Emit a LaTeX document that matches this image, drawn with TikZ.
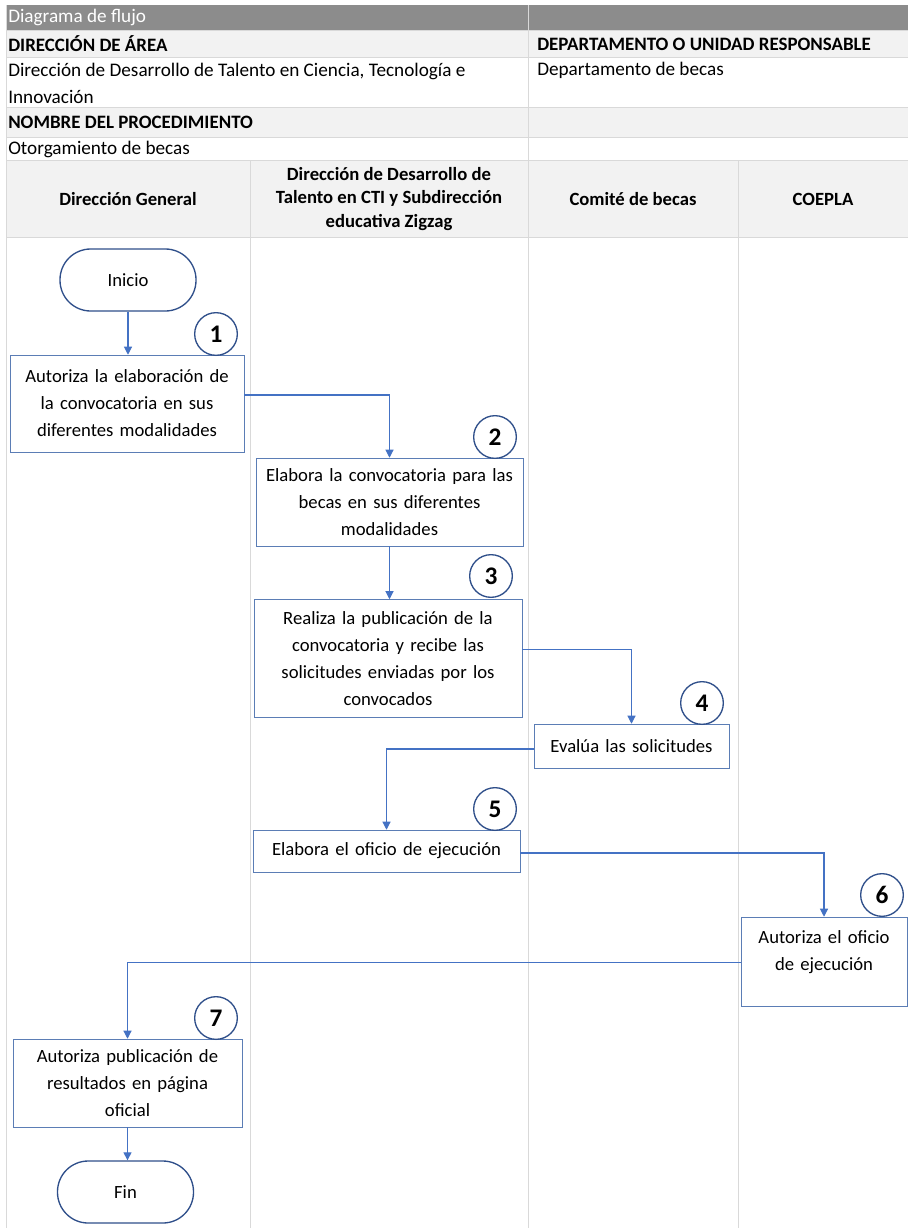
\documentclass[tikz,border=0pt]{standalone}
\usepackage{fontspec}
\setmainfont{Carlito}
\usetikzlibrary{arrows.meta, positioning}
\definecolor{flowblue}{HTML}{4472C4}
\definecolor{boxedge}{HTML}{5B7DB5}
\definecolor{darkedge}{HTML}{2F4F8A}
\definecolor{gridgray}{HTML}{D9D9D9}
\definecolor{headgray}{HTML}{8C8C8C}
\definecolor{rowgray}{HTML}{F2F2F2}

\begin{document}
\begin{tikzpicture}[x=0.75pt, y=-0.75pt,
    stepbox/.style={draw=boxedge, fill=white, align=center, inner sep=2pt,
        font=\fontsize{14}{20.25}\selectfont},
    terminal/.style={draw=darkedge, line width=1pt, rounded corners=23pt, fill=white,
        minimum width=102pt, minimum height=46.5pt, font=\fontsize{14}{20.25}\selectfont},
    num/.style={circle, draw=darkedge, line width=1pt, fill=white, minimum size=32pt,
        inner sep=0pt, font=\fontsize{19}{20}\selectfont\bfseries},
    flow/.style={flowblue, line width=0.8pt, -{Triangle[width=6pt,length=6pt]}},
    cell/.style={anchor=west, inner sep=0pt, align=left, font=\fontsize{14.4}{20.25}\selectfont},
    cellbold/.style={cell, font=\fontsize{14.2}{20.25}\selectfont\bfseries},
    lanehead/.style={align=center, inner sep=0pt, font=\fontsize{14}{17.6}\selectfont\bfseries}]
\useasboundingbox (0,0) rectangle (908,1228);

% table background and grid
\fill[headgray] (6,5) rectangle (908,30);
\fill[rowgray] (6,30) rectangle (908,57);
\fill[rowgray] (6,107) rectangle (908,137);
\fill[rowgray] (6,160) rectangle (908,237);
\foreach \y in {30,57,107,137,160,237}
    \draw[gridgray] (6,\y) -- (908,\y);
\draw[gridgray] (6,5) -- (6,1228);
\draw[gridgray] (528,5) -- (528,1228);
\draw[gridgray] (250,160) -- (250,1228);
\draw[gridgray] (738,160) -- (738,1228);

% header texts
\node[cell, text=white] (title) at (8,17) {Diagrama de flujo};
\node[cellbold] (area) at (8,44) {DIRECCIÓN DE ÁREA};
\node[cellbold] (dept) at (537,44) {DEPARTAMENTO O UNIDAD RESPONSABLE};
\node[cell] (areaname) at (8,83.5) {Dirección de Desarrollo de Talento en Ciencia, Tecnología e\\Innovación};
\node[cell] (deptname) at (537,70) {Departamento de becas};
\node[cellbold] (proc) at (8,122) {NOMBRE DEL PROCEDIMIENTO};
\node[cell] (procname) at (8,149) {Otorgamiento de becas};

% lanes
\node[lanehead] (laneA) at (128,199) {Dirección General};
\node[lanehead] (laneB) at (389,199) {Dirección de Desarrollo de\\Talento en CTI y Subdirección\\educativa Zigzag};
\node[lanehead] (laneC) at (633,199) {Comité de becas};
\node[lanehead] (laneD) at (823,199) {COEPLA};

% flow steps
\node[terminal] (ini) at (128,280) {Inicio};
\node[stepbox, minimum width=175.5pt, minimum height=72.75pt, text width=171pt] (b1) at (127,403.5)
    {Autoriza la elaboración de\\la convocatoria en sus\\diferentes modalidades};
\node[stepbox, minimum width=200.25pt, minimum height=66pt, text width=196pt] (b2) at (389.5,502)
    {Elabora la convocatoria para las\\becas en sus diferentes\\modalidades};
\node[stepbox, minimum width=201pt, minimum height=88.5pt, text width=197pt] (b3) at (388,658.5)
    {Realiza la publicación de la\\convocatoria y recibe las\\solicitudes enviadas por los\\convocados};
\node[stepbox, minimum width=146.25pt, minimum height=33pt, text width=142pt] (b4) at (631.5,746)
    {Evalúa las solicitudes};
\node[stepbox, minimum width=200.25pt, minimum height=31.5pt, text width=196pt] (b5) at (386.5,851)
    {Elabora el oficio de ejecución};
\node[stepbox, minimum width=124.5pt, minimum height=66.75pt, text width=120pt] (b6) at (824,961.5)
    {Autoriza el oficio\\de ejecución\\[-4pt]\mbox{}};
\node[stepbox, minimum width=171.75pt, minimum height=66pt, text width=167pt] (b7) at (127.5,1083)
    {Autoriza publicación de\\resultados en página\\oficial};
\node[terminal] (fin) at (125.5,1192) {Fin};

% step numbers
\node[num] (n1) at (216,334) {1};
\node[num] (n2) at (495,437) {2};
\node[num] (n3) at (491,576) {3};
\node[num] (n4) at (702,703) {4};
\node[num] (n5) at (495,809) {5};
\node[num] (n6) at (882,895) {6};
\node[num] (n7) at (216,1018) {7};

% connectors
\draw[flow] (ini.south) -- (ini.south |- b1.north);
\draw[flow] ([yshift=6.4pt]b1.east) -| (b2.north);
\draw[flow] (b2.south) -- (b2.south |- b3.north);
\draw[flow] ([yshift=7pt]b3.east) -| (b4.north);
\draw[flow] ([yshift=-2.25pt]b4.west) -| (b5.north);
\draw[flow] ([yshift=-1.5pt]b5.east) -| (b6.north);
\draw[flow] ([yshift=-1pt]b6.west) -| (b7.north);
\draw[flow] (b7.south) -- (b7.south |- fin.north);
\end{tikzpicture}
\end{document}
